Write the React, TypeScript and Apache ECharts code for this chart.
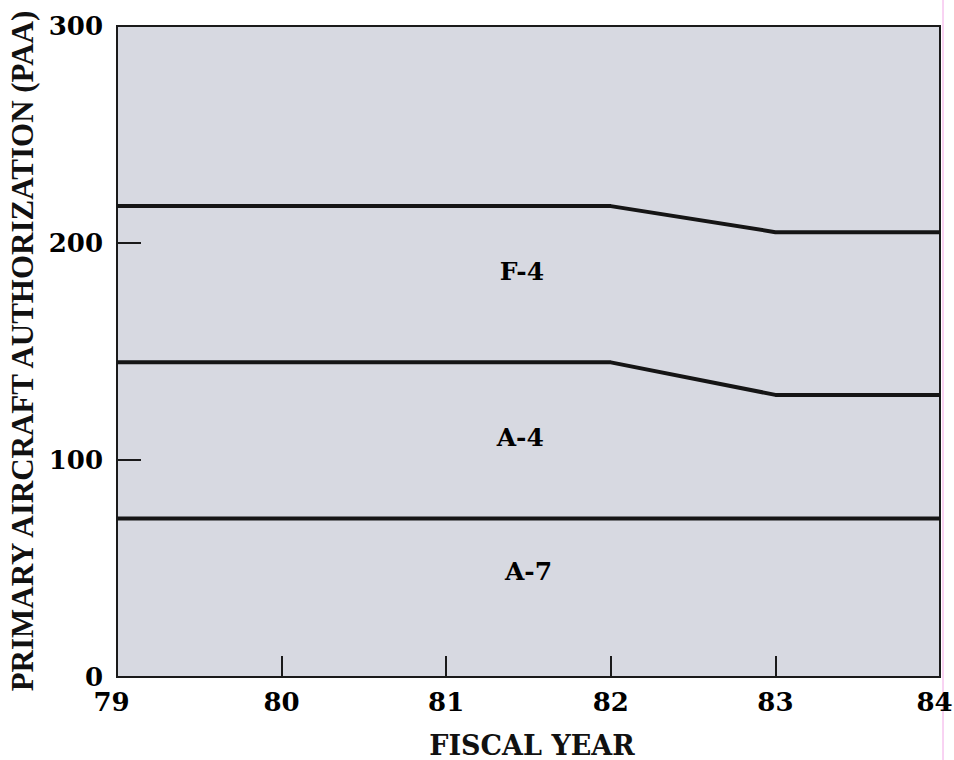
import React, { useEffect, useRef } from "react";
import * as echarts from "echarts";

const years = [79, 80, 81, 82, 83, 84];
const f4Top = [217, 217, 217, 217, 205, 205];
const a4Top = [145, 145, 145, 145, 130, 130];
const a7Top = [73, 73, 73, 73, 73, 73];
const regionLabels = ["F-4", "A-4", "A-7"];
const regionX = [81.46, 81.45, 81.5];
const regionY = [187, 110.5, 48.8];
const yTitle = "PRIMARY AIRCRAFT AUTHORIZATION (PAA)";
const xTitle = "FISCAL YEAR";

export default function App() {
  const ref = useRef<HTMLDivElement>(null);
  useEffect(() => {
    if (!ref.current) return;
    const chart = echarts.init(ref.current, undefined, { renderer: "svg" });
    const pair = (vals: number[]) => years.map((y, i) => [y, vals[i]]);
    const lineSeries = (name: string, vals: number[]) => ({
      name,
      type: "line",
      data: pair(vals),
      symbol: "none",
      lineStyle: { color: "#151515", width: 4 },
      z: 3,
    });
    const tickFont = {
      fontFamily: "DejaVu Serif",
      fontWeight: "bold",
      fontSize: 26,
      color: "#000",
    };
    chart.setOption({
      animation: false,
      grid: {
        left: 117,
        right: 14,
        top: 26,
        bottom: 83,
        containLabel: false,
        outerBoundsMode: "none",
        show: true,
        backgroundColor: "#d7d9e1",
        borderColor: "#1a1a1a",
        borderWidth: 2,
      },
      xAxis: {
        type: "value",
        min: 79,
        max: 84,
        interval: 1,
        axisLine: { show: true, lineStyle: { color: "#1a1a1a", width: 2 } },
        axisTick: { show: true, inside: true, length: 21, lineStyle: { color: "#1a1a1a", width: 2 } },
        axisLabel: {
          margin: 15,
          ...tickFont,
          lineHeight: 20,
          formatter: (v: number) =>
            v === years[0] ? `{a|${v}}` : v === years[years.length - 1] ? `{a|${v}}` : `${v}`,
          rich: {
            a: { ...tickFont, lineHeight: 20, padding: [0, 11, 0, 0] },
          },
        },
        splitLine: { show: false },
      },
      yAxis: {
        type: "value",
        min: 0,
        max: 300,
        interval: 100,
        axisLine: { show: true, lineStyle: { color: "#1a1a1a", width: 2 } },
        axisTick: { show: true, inside: true, length: 24, lineStyle: { color: "#1a1a1a", width: 2 } },
        axisLabel: {
          margin: 14,
          ...tickFont,
          lineHeight: 18,
        },
        splitLine: { show: false },
      },
      series: [
        lineSeries("F-4", f4Top),
        lineSeries("A-4", a4Top),
        lineSeries("A-7", a7Top),
        {
          type: "scatter",
          symbolSize: 0,
          data: regionLabels.map((n, i) => ({ value: [regionX[i], regionY[i]], name: n })),
          itemStyle: { opacity: 1 },
          label: {
            show: true,
            position: "inside",
            formatter: (p: any) => p.name,
            fontFamily: "DejaVu Serif",
            fontWeight: "bold",
            fontSize: 25,
            color: "#000",
          },
          z: 4,
        },
      ],
      graphic: [
        {
          type: "text",
          x: 22,
          y: 351,
          rotation: Math.PI / 2,
          style: {
            text: yTitle,
            fontFamily: "Liberation Serif",
            fontWeight: "bold",
            fontSize: 31,
            fill: "#111",
            textAlign: "center",
            textVerticalAlign: "middle",
          },
        },
        {
          type: "text",
          x: 532,
          y: 745,
          style: {
            text: xTitle,
            fontFamily: "DejaVu Serif",
            fontWeight: "bold",
            fontSize: 27,
            fill: "#111",
            textAlign: "center",
            textVerticalAlign: "middle",
          },
        },
        {
          type: "line",
          shape: { x1: 943, y1: 0, x2: 943, y2: 760 },
          style: { stroke: "#f2a6e6", lineWidth: 1 },
        },
      ],
    });
    return () => chart.dispose();
  }, []);
  return (
    <div
      ref={ref}
      style={{ position: "absolute", left: 0, top: 0, width: 954, height: 760, background: "#fff" }}
    />
  );
}
